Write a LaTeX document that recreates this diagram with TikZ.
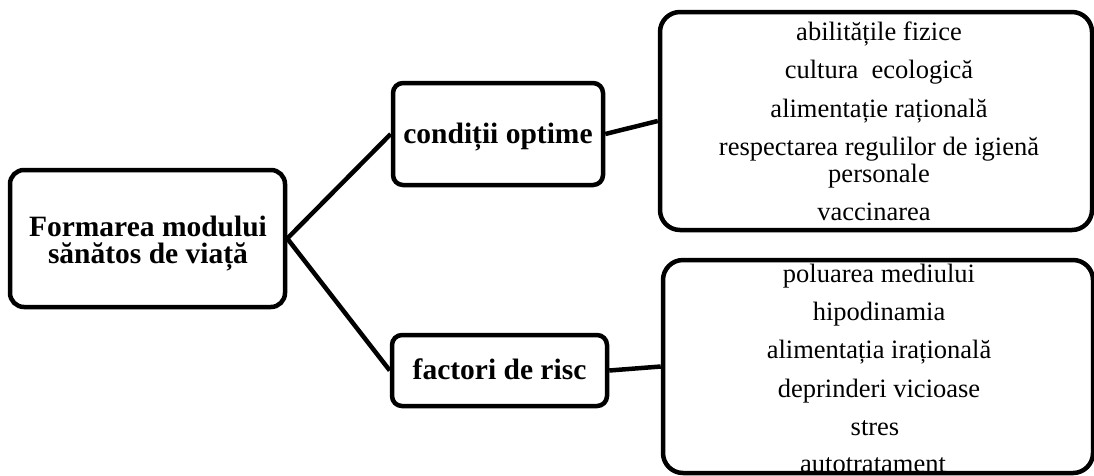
\documentclass[tikz,border=0pt]{standalone}
\usepackage{fontspec}
\setmainfont{Liberation Serif}
\begin{document}
\begin{tikzpicture}[x=1pt,y=-1pt,
  box/.style={draw, line width=4.5pt, inner sep=0pt},
  conn/.style={line width=4.5pt},
  big/.style={font=\fontsize{29.5}{29.5}\selectfont\bfseries, anchor=base, inner sep=0pt},
  item/.style={font=\fontsize{26.5}{27}\selectfont, anchor=base, inner sep=0pt}]
\useasboundingbox (0,0) rectangle (1094,475);

% texts
\node[big] (a1) at (148,236) {Formarea modului};
\node[big] (a2) at (148,263) {sănătos de viață};
\node[big] (b1) at (498,143) {condiții optime};
\node[big] (c1) at (499.5,379) {factori de risc};

\node[item] (d1) at (879,40) {abilitățile fizice};
\node[item] (d2) at (879,78) {cultura\ \ ecologică};
\node[item] (d3) at (879,117) {alimentație rațională};
\node[item] (d4) at (879,155) {respectarea regulilor de igienă};
\node[item] (d5) at (879,182) {personale};
\node[item] (d6) at (874,220) {vaccinarea};

\node[item] (e1) at (879,282) {poluarea mediului};
\node[item] (e2) at (879,320) {hipodinamia};
\node[item] (e3) at (879,358) {alimentația irațională};
\node[item] (e4) at (879,397) {deprinderi vicioase};
\node[item] (e5) at (875,435) {stres};
\node[item] (e6) at (873,472) {autotratament};

% boxes
\node[box, rounded corners=14pt, minimum width=275pt, minimum height=137pt] (A) at (147.5,238.5) {};
\node[box, rounded corners=10pt, minimum width=210pt, minimum height=102pt] (B) at (498,134) {};
\node[box, rounded corners=10pt, minimum width=215pt, minimum height=71pt] (C) at (499.5,370.5) {};
\node[box, rounded corners=20pt, minimum width=432pt, minimum height=218pt] (D) at (876,121) {};
\node[box, rounded corners=20pt, minimum width=430pt, minimum height=213pt] (E) at (878,366.5) {};

% connectors
\draw[conn] (A.east) -- (B.west);
\draw[conn] (A.east) -- (C.west);
\draw[conn] (B.east) -- (D.west);
\draw[conn] (C.east) -- (E.west);
\end{tikzpicture}
\end{document}
